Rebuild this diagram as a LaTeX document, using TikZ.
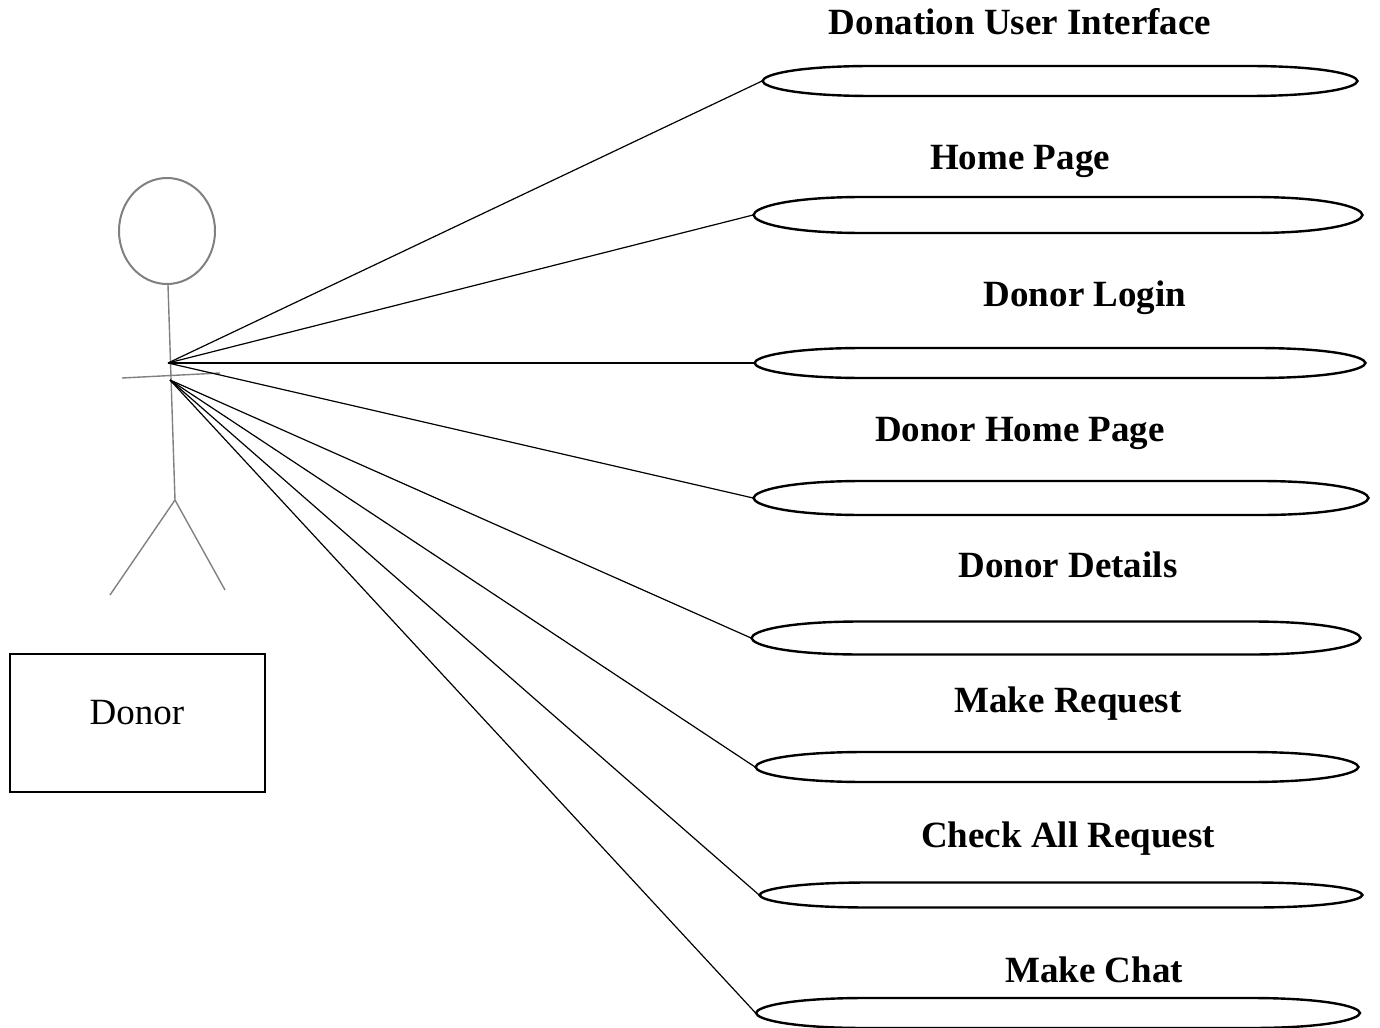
\documentclass[tikz,border=0pt]{standalone}
\usepackage{fontspec}
\setmainfont{Liberation Serif}
\usetikzlibrary{shapes.geometric}
\tikzset{
  usecase/.style = {ellipse, inner sep=0pt},
  ucedge/.style  = {draw, line width=1.2pt},
  ucname/.style  = {anchor=base, font=\fontsize{18.5}{22}\selectfont\bfseries},
  stick/.style   = {draw=gray, line width=0.7pt},
  assoc/.style   = {line width=0.6pt}
}

\begin{document}
\begin{tikzpicture}[x=0.5pt,y=-0.5pt]
  \useasboundingbox (0,0) rectangle (1380,1027);
  % actor
  \draw[stick,line width=1pt] (167,231) ellipse (48 and 53);
  \draw[stick] (168,285) -- (175,500) -- (110,595);
  \draw[stick] (175,500) -- (225,590);
  \draw[stick] (122,378) -- (220,373);
  \coordinate (neck) at (168,363);
  \coordinate (hip)  at (170,380);
  \node[draw,line width=1pt,minimum width=127.5pt,minimum height=69pt] (donor) at (137.5,723) {};
  \node[anchor=base,font=\fontsize{18.5}{22}\selectfont] (donorname) at (137,724) {Donor};
  % use cases
  \foreach \n/\x/\y/\w/\h in {1/1060/81/595/30, 2/1058/215/609/36,
      3/1060/363/611/30, 4/1061/498/615/34, 5/1056/638/609/33,
      6/1057/767/603/30, 7/1061/895/603/25, 8/1058/1013/604/30}
  {
    \node[usecase,minimum width=\w*0.5pt,minimum height=\h*0.5pt] (uc\n) at (\x,\y) {};
    \draw[ucedge] (\x-\w/2,\y)
      .. controls (\x-\w/2+1,\y-\h*0.22) and (\x-\w/2+35,\y-\h/2) .. (\x-\w/2+110,\y-\h/2)
      -- (\x+\w/2-110,\y-\h/2)
      .. controls (\x+\w/2-35,\y-\h/2) and (\x+\w/2-1,\y-\h*0.22) .. (\x+\w/2,\y)
      .. controls (\x+\w/2-1,\y+\h*0.22) and (\x+\w/2-35,\y+\h/2) .. (\x+\w/2-110,\y+\h/2)
      -- (\x-\w/2+110,\y+\h/2)
      .. controls (\x-\w/2+35,\y+\h/2) and (\x-\w/2+1,\y+\h*0.22) .. cycle;
  }
  \foreach \n/\x/\y/\txt in {1/1020/35/Donation User Interface, 2/1020/170/Home Page,
      3/1085/306/Donor Login, 4/1020/441/Donor Home Page, 5/1068/577/Donor Details,
      6/1068/712/Make Request, 7/1068/847/Check All Request, 8/1094/982/Make Chat}
    \node[ucname] (lbl\n) at (\x,\y) {\txt};
  \foreach \n in {1,...,4}
    \draw[assoc] (neck) -- (uc\n.west);
  \foreach \n in {5,...,8}
    \draw[assoc] (hip) -- (uc\n.west);
\end{tikzpicture}
\end{document}
